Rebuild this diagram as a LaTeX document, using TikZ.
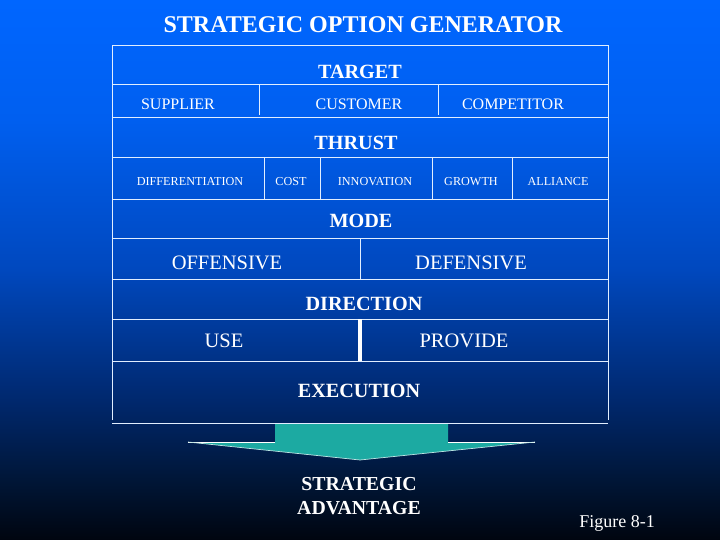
\documentclass[tikz,border=0pt]{standalone}
\usepackage{fontspec}
\setmainfont{Liberation Serif}
\pgfdeclareverticalshading{bgshade}{100bp}{rgb(0bp)=(0,0.02,0.06); rgb(25bp)=(0,0.02,0.06); rgb(30.56bp)=(0,0.086,0.216); rgb(37.96bp)=(0,0.157,0.43); rgb(50bp)=(0,0.282,0.745); rgb(63.89bp)=(0,0.373,0.94); rgb(75bp)=(0,0.4,1); rgb(100bp)=(0,0.4,1)}
\definecolor{teal}{RGB}{28,170,162}
\definecolor{rule}{RGB}{225,238,255}
\tikzset{
  head/.style={text=white,font=\fontsize{20.2}{22}\selectfont\bfseries,inner sep=0pt},
  item/.style={text=white,font=\fontsize{16}{18}\selectfont,inner sep=0pt},
  small/.style={text=white,font=\fontsize{12.2}{14}\selectfont,inner sep=0pt},
  big/.style={text=white,font=\fontsize{20.5}{22}\selectfont,inner sep=0pt},
  grid/.style={draw=rule,line width=0.9pt},
}
\begin{document}
\begin{tikzpicture}[x=1pt,y=-1pt]
\useasboundingbox (0,0) rectangle (720,540);
\shade[shading=bgshade] (0,0) rectangle (720,540);
% title
\node[text=white,font=\fontsize{24}{26}\selectfont\bfseries,inner sep=0pt] (title) at (363,25) {STRATEGIC OPTION GENERATOR};
% table frame
\draw[grid] (112,420) -- (112,45) -- (608,45) -- (608,420);
\draw[grid] (112,423) -- (608,423);
\foreach \y in {84,117,157,199,238,279,319,361}
  \draw[grid] (112,\y) -- (608,\y);
% dividers
\draw[grid] (259,84) -- (259,115);
\draw[grid] (438,84) -- (438,115);
\foreach \x in {264,320,432,512}
  \draw[grid] (\x,157) -- (\x,199);
\draw[grid] (360,238) -- (360,279);
\draw[draw=white,line width=4pt] (360,319) -- (360,361);
% texts
\node[head] (target) at (360,72) {TARGET};
\node[item] (supplier) at (178,104) {SUPPLIER};
\node[item] (customer) at (359,104) {CUSTOMER};
\node[item] (competitor) at (513,104) {COMPETITOR};
\node[head] (thrust) at (356,143) {THRUST};
\node[small] (diff) at (190,182) {DIFFERENTIATION};
\node[small] (cost) at (291,182) {COST};
\node[small] (innov) at (375,182) {INNOVATION};
\node[small] (growth) at (471,182) {GROWTH};
\node[small] (alliance) at (558,182) {ALLIANCE};
\node[head] (mode) at (361,221) {MODE};
\node[big] (off) at (227,263) {OFFENSIVE};
\node[big] (def) at (471,263) {DEFENSIVE};
\node[head] (direction) at (364,304) {DIRECTION};
\node[big] (use) at (224,341) {USE};
\node[big] (provide) at (464,341) {PROVIDE};
\node[head] (execution) at (359,391) {EXECUTION};
% arrow
\fill[teal] (275,424) -- (448,424) -- (448,442) -- (535,442) -- (360,460) -- (188,442) -- (275,442) -- cycle;
\draw[white,line width=0.9pt] (188,442) -- (275,442);
\draw[white,line width=0.9pt] (448,442) -- (535,442);
\draw[white!70!teal,line width=0.7pt] (188,442) -- (360,460) -- (535,442);
\node[head,align=center,font=\fontsize{19.8}{24}\selectfont\bfseries] (adv) at (359,496) {STRATEGIC\\ADVANTAGE};
\node[text=white,font=\fontsize{18}{20}\selectfont,inner sep=0pt] (fig) at (617,523) {Figure 8-1};
\end{tikzpicture}
\end{document}
